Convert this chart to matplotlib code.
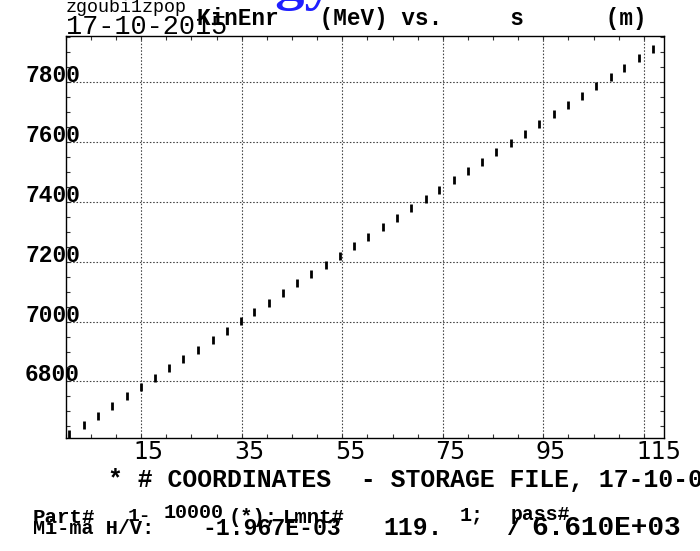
import matplotlib
matplotlib.use("Agg")
import matplotlib.pyplot as plt
from matplotlib.ticker import FixedLocator, MultipleLocator
from matplotlib.transforms import ScaledTranslation

# kinetic energy vs. s, one entry per record of the storage file
s_m = [0.75, 3.7, 6.5, 9.3, 12.1, 15.0, 17.8, 20.6, 23.4, 26.3, 29.2, 32.0,
       34.9, 37.5, 40.5, 43.2, 46.0, 48.8, 51.8, 54.6, 57.4, 60.2, 63.1, 65.9,
       68.7, 71.7, 74.3, 77.2, 80.0, 82.8, 85.6, 88.6, 91.4, 94.2, 97.1, 99.9,
       102.7, 105.5, 108.4, 111.1, 114.0, 116.9]
kin_mev = [6624, 6655, 6685, 6718, 6750, 6780, 6811, 6845, 6874, 6906, 6938,
           6970, 7001, 7033, 7063, 7096, 7128, 7158, 7189, 7221, 7252, 7284,
           7316, 7346, 7379, 7410, 7441, 7472, 7504, 7535, 7567, 7598, 7629,
           7661, 7693, 7723, 7755, 7787, 7818, 7849, 7882, 7913]

s_ticks = [15, 35, 55, 75, 95, 115]
e_ticks = [6800, 7000, 7200, 7400, 7600, 7800]
s_min, s_max = -1.967e-3, 119.0
e_min, e_max = 6610.0, 7955.0

MONO = "Liberation Mono"
W, H = 700, 551

fig = plt.figure(figsize=(W / 100, H / 100), dpi=100)
ax = fig.add_axes([65.7 / W, 1 - 438.3 / H, 598.3 / W, 402.3 / H])


def put(x, y, txt, size, **kw):
    # x, y in pixels from the top-left corner, y is the text baseline
    kw.setdefault("family", MONO)
    kw.setdefault("weight", "bold")
    fig.text(x / W, 1 - y / H, txt, fontsize=size, va="baseline", **kw)


ax.plot(s_m, kin_mev, ls="none", marker="|", ms=5.8, mew=2.0, color="k",
        clip_on=True, zorder=3)

ax.set_xlim(s_min, s_max)
ax.set_ylim(e_min, e_max)
ax.xaxis.set_major_locator(FixedLocator(s_ticks))
ax.yaxis.set_major_locator(FixedLocator(e_ticks))
ax.xaxis.set_minor_locator(MultipleLocator(5))
ax.yaxis.set_minor_locator(MultipleLocator(50))
ax.grid(True, which="major", color="#444444", lw=0.8, ls=(0, (1.4, 1.6)))
ax.tick_params(which="both", direction="in", top=True, right=True,
               length=3.2, width=0.8, color="#333333")
ax.tick_params(axis="x", pad=1, labelsize=17)
ax.tick_params(axis="y", pad=-10.3, labelsize=16.5)
for side in ax.spines.values():
    side.set_linewidth(1.0)

shift = ScaledTranslation(-7.5 / 100, 0, fig.dpi_scale_trans)
for lab in ax.get_xticklabels():
    lab.set_family("DejaVu Sans")
    lab.set_ha("left")
    lab.set_transform(lab.get_transform() + shift)
for lab in ax.get_yticklabels():
    lab.set_family(MONO)
    lab.set_weight("bold")
    lab.set_va("baseline")

# header
put(334, -1, "Energy", 42, family="Liberation Serif", color="#1f1fff",
    ha="right")
put(66, 12, "zgoubi1zpop", 13.2, weight="normal")
put(66, 34.3, "17-10-2015", 19.4, weight="normal")
put(197, 25, "KinEnr   (MeV) vs.     s      (m)", 16.3)

# footer
put(108, 487, "* # COORDINATES  - STORAGE FILE, 17-10-0", 17.8)
put(33, 523, "Part#", 15)
put(128, 521, "1-", 14)
put(164, 518, "10000", 14.4)
put(229, 523, "(*);", 14.8)
put(283, 523, "Lmnt#", 14.9)
put(460, 521, "1;", 14.4)
put(511, 520, "pass#", 14.2)
put(33, 534, "Mi-ma H/V:", 14.5)
put(202, 535, "-1.967E-03", 16.7)
put(383, 535, "119.", 17.8)
put(507, 535, "/", 17)
put(531, 535, "6.610E+03", 20)

fig.savefig("out.png", dpi=100)
